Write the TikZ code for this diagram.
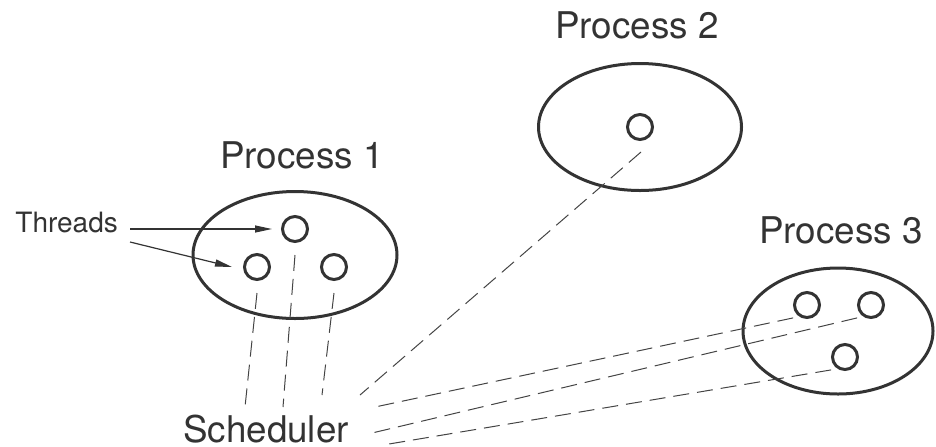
\documentclass[tikz,border=0pt]{standalone}
\usepackage{fontspec}
\setmainfont{TeX Gyre Heros}
\usetikzlibrary{shapes.geometric,arrows.meta}
\definecolor{ink}{HTML}{333333}
\definecolor{dash}{HTML}{444444}

\begin{document}
\begin{tikzpicture}[x=.5pt, y=-.5pt,
    proc/.style={draw=ink, line width=1.5pt, ellipse, inner sep=0pt},
    thread/.style={draw=ink, line width=1.5pt, circle, inner sep=0pt, minimum size=12.5pt},
    lbl/.style={text=ink, anchor=base, inner sep=0pt, font=\fontsize{18.4}{22}\selectfont},
    link/.style={draw=dash, line width=.5pt, dash pattern=on 8pt off 4pt},
    ptr/.style={draw=ink, line width=.6pt, -{Triangle[length=8.5pt,width=3.5pt]}}]
            \useasboundingbox (0,0) rectangle (936,446);

            \node[proc, minimum width=102pt, minimum height=63.5pt] (p1) at (295,255) {};
            \node[proc, minimum width=101.5pt, minimum height=63.5pt] (p2) at (640,127) {};
            \node[proc, minimum width=95pt, minimum height=63pt] (p3) at (838,331) {};

            \node[lbl] (l1) at (302,168) {Process 1};
            \node[lbl] (l2) at (637,38) {Process 2};
            \node[lbl] (l3) at (841,243) {Process 3};
            \node[lbl] (sched) at (266,442) {Scheduler};
            \node[lbl, anchor=base west, font=\fontsize{14}{17}\selectfont] (thr) at (15,232) {Threads};

            \node[thread] (t11) at (257,267) {};
            \node[thread] (t12) at (295,229) {};
            \node[thread] (t13) at (334,267) {};
            \node[thread] (t21) at (640,127) {};
            \node[thread] (t31) at (807,305) {};
            \node[thread] (t32) at (871,305) {};
            \node[thread] (t33) at (845,357) {};

            \coordinate (a1) at (130,229);
            \coordinate (a2) at (130,242);
            \draw[ptr] (a1) -- ([xshift=-4.5pt]t12.west);
            \draw[ptr] (a2) -- ([xshift=-5.5pt]t11.west);

            \coordinate (s1) at (245,407);
            \coordinate (s2) at (283,407);
            \coordinate (s3) at (322,395);
            \coordinate (s4) at (360,395);
            \coordinate (s5) at (375,407);
            \coordinate (s6) at (372,433);
            \coordinate (s7) at (383,445);

            \draw[link] ([yshift=-6pt]t11.south) -- (s1);
            \draw[link] ([yshift=-6pt]t12.south) -- (s2);
            \draw[link] ([yshift=-6pt]t13.south) -- (s3);
            \draw[link] ([shift={(.5pt,-5.5pt)}]t21.south) -- (s4);
            \draw[link] ([shift={(-2pt,-1.5pt)}]t31.south west) -- (s5);
            \draw[link] ([shift={(-2pt,-1.5pt)}]t32.south west) -- (s6);
            \draw[link] ([shift={(-2pt,-1.5pt)}]t33.south west) -- (s7);

            \end{tikzpicture}
\end{document}
